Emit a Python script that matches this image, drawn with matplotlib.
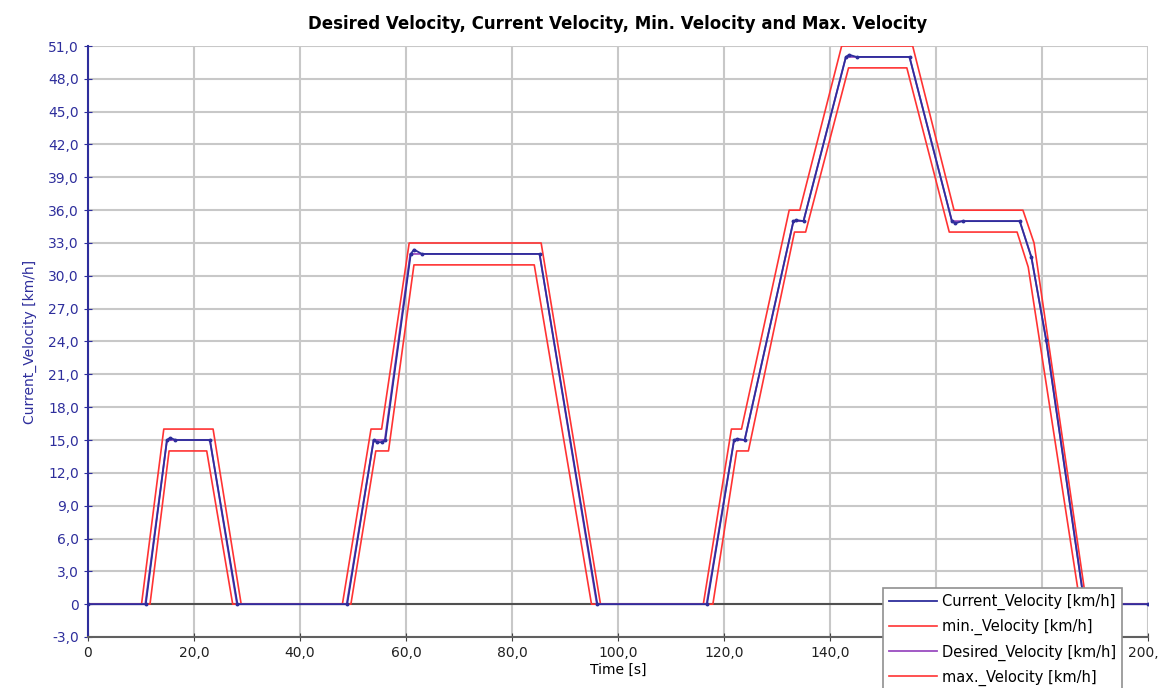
import numpy as np
import matplotlib
matplotlib.use("Agg")
import matplotlib.pyplot as plt
from matplotlib.ticker import FuncFormatter, MultipleLocator

# breakpoints (time in s, velocity in km/h)
t_desired = [0, 10.8, 14.9, 23.0, 28.1, 48.8, 53.9, 56.0, 60.8, 85.2, 96.0,
             116.7, 121.9, 123.9, 133.1, 135.0, 143.0, 155.0, 163.0, 175.8, 178.0, 180.8, 188.0, 200]
v_desired = [0, 0, 15, 15, 0, 0, 15, 15, 32, 32, 0,
             0, 15, 15, 35, 35, 50, 50, 35, 35, 31.7, 24.1, 0, 0]

t_current = [0, 10.9, 14.9, 15.5, 16.5, 23.0, 28.2, 48.9, 53.9, 54.5, 55.5, 56.1, 60.9, 61.5, 63.0, 85.2, 96.1,
             116.8, 121.9, 122.5, 123.9, 133.1, 133.6, 135.0, 143.0, 143.6, 145.0, 155.0, 163.0, 163.6, 165.0,
             175.8, 178.0, 180.8, 188.0, 200]
v_current = [0, 0, 15, 15.2, 15, 15, 0, 0, 15, 14.8, 14.8, 15, 32, 32.4, 32, 32, 0,
             0, 15, 15.1, 15, 35, 35.1, 35, 50, 50.2, 50, 50, 35, 34.8, 35,
             35, 31.7, 24.1, 0, 0]

t_max = [0, 10.1, 14.3, 23.6, 28.9, 48.0, 53.4, 55.4, 60.6, 85.5, 96.7,
         116.1, 121.4, 123.3, 132.3, 134.3, 142.2, 155.6, 163.4, 176.4, 178.5, 188.4, 200]
v_max = [0, 0, 16, 16, 0, 0, 16, 16, 33, 33, 0,
         0, 16, 16, 36, 36, 51, 51, 36, 36, 33, 0, 0]

t_min = [0, 11.7, 15.3, 22.4, 27.3, 49.6, 54.3, 56.7, 61.5, 84.2, 95.0,
         117.9, 122.4, 124.6, 133.3, 135.4, 143.5, 154.5, 162.5, 175.3, 177.4, 187.2, 200]
v_min = [0, 0, 14, 14, 0, 0, 14, 14, 31, 31, 0,
         0, 14, 14, 34, 34, 49, 49, 34, 34, 30.8, 0, 0]

navy = '#2e2e9c'
purple = '#9a4cc0'
red = '#ff3333'

fig = plt.figure(figsize=(11.59, 6.88), dpi=100)
ax = fig.add_axes([88/1159, 1-637/688, (1148-88)/1159, (637-46)/688])

ax.axhline(0, color='#505050', lw=1.5, zorder=1.5)
l_cur, = ax.plot(t_current, v_current, color=navy, lw=1.3, marker='o', ms=1.8, zorder=3.2)
l_min, = ax.plot(t_min, v_min, color=red, lw=1.2, zorder=3)
l_des, = ax.plot(t_desired, v_desired, color=purple, lw=1.3, zorder=3.1)
l_max, = ax.plot(t_max, v_max, color=red, lw=1.2, zorder=3)

ax.set_xlim(0, 200)
ax.set_ylim(-3, 51)
ax.xaxis.set_major_locator(MultipleLocator(20))
ax.yaxis.set_major_locator(MultipleLocator(3))

def fmt(v, pos):
    if abs(v) < 1e-9:
        return '0'
    return ('%.1f' % v).replace('.', ',')

ax.xaxis.set_major_formatter(FuncFormatter(fmt))
ax.yaxis.set_major_formatter(FuncFormatter(fmt))

ax.grid(True, color='#c8c8c8', lw=1.5)
ax.set_axisbelow(True)
for s in ['top', 'right']:
    ax.spines[s].set_visible(False)
ax.spines['left'].set_color(navy)
ax.spines['left'].set_linewidth(1.5)
ax.spines['bottom'].set_color('#606060')
ax.spines['bottom'].set_linewidth(1.5)

ax.tick_params(axis='y', direction='inout', length=6, color=navy, labelcolor=navy, labelsize=10)
ax.tick_params(axis='x', direction='inout', length=6, color='#404040', labelcolor='#202020', labelsize=10)

ax.set_ylabel('Current_Velocity [km/h]', color=navy, fontsize=10, labelpad=8)
ax.set_xlabel('Time [s]', fontsize=10, labelpad=2)
ax.set_title('Desired Velocity, Current Velocity, Min. Velocity and Max. Velocity',
             fontsize=12, fontweight='bold', pad=12)

# legend sits over the bottom-right corner and runs off the figure, like the reference
leg = ax.legend([l_cur, l_min, l_des, l_max],
                ['Current_Velocity [km/h]', 'min._Velocity [km/h]',
                 'Desired_Velocity [km/h]', 'max._Velocity [km/h]'],
                loc='upper left', bbox_to_anchor=(883/1159, 1-588/688),
                bbox_transform=fig.transFigure, fontsize=10.5, handlelength=3.3,
                handletextpad=0.35, fancybox=False, framealpha=1, edgecolor='#909090',
                borderaxespad=0, labelspacing=0.62, borderpad=0.4)
leg.get_frame().set_linewidth(1.2)
for h in leg.get_lines():
    h.set_marker('None')

fig.savefig('out.png', dpi=100)
